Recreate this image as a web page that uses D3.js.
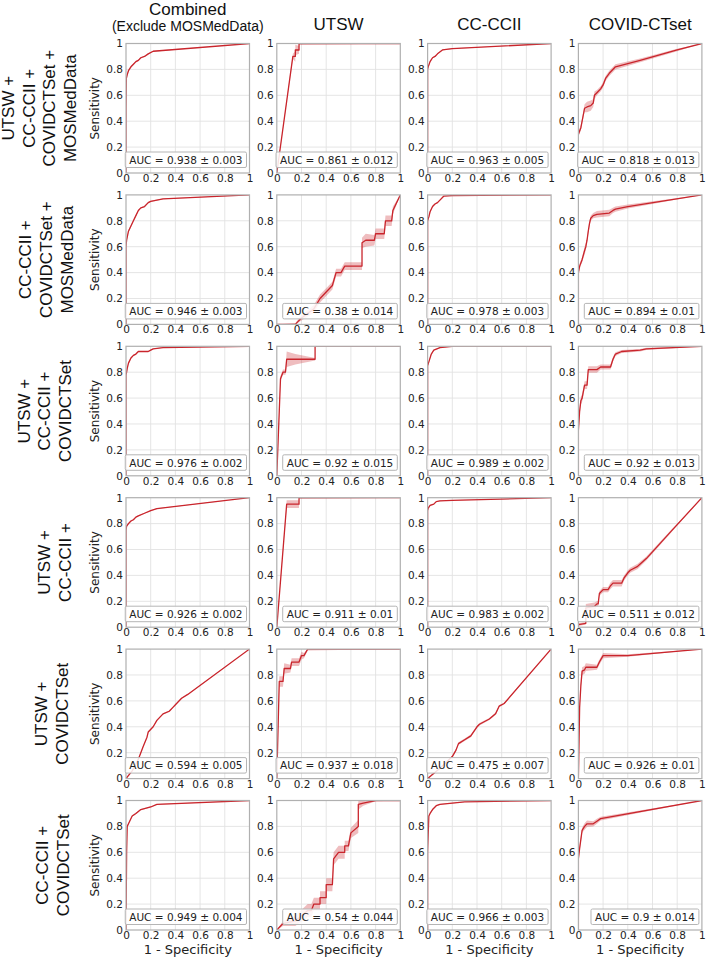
<!DOCTYPE html>
<html><head><meta charset="utf-8">
<script src="https://cdn.jsdelivr.net/npm/d3@7"></script>
<style>body{margin:0;background:#fff}</style>
</head><body><svg id="c" width="706" height="957"></svg>
<script>
// ---------------- data ----------------
const colTitles = ["Combined", "UTSW", "CC-CCII", "COVID-CTset"];
const colSubtitle = "(Exclude MOSMedData)";
const rowLabels = [
  ["UTSW +", "CC-CCII +", "COVIDCTSet +", "MOSMedData"],
  ["CC-CCII +", "COVIDCTSet +", "MOSMedData"],
  ["UTSW +", "CC-CCII +", "COVIDCTSet"],
  ["UTSW +", "CC-CCII +"],
  ["UTSW +", "COVIDCTSet"],
  ["CC-CCII +", "COVIDCTSet"]
];
const aucMean = [
  [0.938, 0.861, 0.963, 0.818],
  [0.946, 0.38, 0.978, 0.894],
  [0.976, 0.92, 0.989, 0.92],
  [0.926, 0.911, 0.983, 0.511],
  [0.594, 0.937, 0.475, 0.926],
  [0.949, 0.54, 0.966, 0.9]
];
const aucStd = [
  [0.003, 0.012, 0.005, 0.013],
  [0.003, 0.014, 0.003, 0.01],
  [0.002, 0.015, 0.002, 0.013],
  [0.002, 0.01, 0.002, 0.012],
  [0.005, 0.018, 0.007, 0.01],
  [0.004, 0.044, 0.003, 0.014]
];
const tickValues = [0, 0.2, 0.4, 0.6, 0.8, 1];
const tickLabels = ["0", "0.2", "0.4", "0.6", "0.8", "1"];
const yAxisLabel = "Sensitivity";
const xAxisLabel = "1 - Specificity";

// ROC curves: [fpr, tpr, band half-width]
const rocRow0 = [
  [[0,0,0],[0,0.5,0.01],[0.003,0.73,0.01],[0.01,0.76,0.01],[0.02,0.79,0.008],[0.04,0.82,0.008],[0.06,0.84,0.006],[0.08,0.86,0.006],[0.1,0.87,0.006],[0.12,0.89,0.005],[0.15,0.9,0.005],[0.18,0.92,0.005],[0.22,0.94,0.004],[1,1,0]],
  [[0,0,0],[0.13,0.9,0.02],[0.15,0.9,0.04],[0.15,0.95,0.04],[0.18,0.95,0.03],[0.18,1,0.01],[1,1,0]],
  [[0,0,0],[0,0.8,0.01],[0.005,0.82,0.01],[0.02,0.86,0.008],[0.04,0.89,0.006],[0.06,0.9,0.005],[0.08,0.92,0.005],[0.12,0.95,0.004],[0.2,0.96,0.003],[1,1,0]],
  [[0,0.3,0.02],[0.02,0.35,0.02],[0.03,0.4,0.02],[0.05,0.5,0.03],[0.07,0.51,0.04],[0.1,0.52,0.04],[0.12,0.54,0.03],[0.13,0.6,0.03],[0.15,0.62,0.02],[0.18,0.65,0.02],[0.2,0.68,0.02],[0.22,0.73,0.02],[0.25,0.77,0.02],[0.3,0.82,0.02],[0.5,0.87,0.015],[0.8,0.95,0.01],[1,1,0]]
];
const rocRow1 = [
  [[0,0,0],[0,0.6,0.01],[0.005,0.65,0.01],[0.02,0.72,0.01],[0.04,0.76,0.01],[0.06,0.8,0.008],[0.08,0.84,0.008],[0.1,0.88,0.006],[0.12,0.9,0.005],[0.15,0.91,0.005],[0.18,0.94,0.005],[0.2,0.95,0.004],[0.3,0.97,0.003],[1,1,0]],
  [[0,0,0],[0.15,0,0.01],[0.2,0.05,0.02],[0.3,0.12,0.03],[0.35,0.2,0.03],[0.4,0.25,0.03],[0.45,0.3,0.03],[0.48,0.4,0.03],[0.52,0.4,0.03],[0.55,0.45,0.03],[0.69,0.45,0.03],[0.69,0.63,0.04],[0.72,0.65,0.05],[0.79,0.65,0.04],[0.8,0.7,0.04],[0.87,0.7,0.04],[0.88,0.8,0.04],[0.93,0.8,0.04],[0.94,0.88,0.03],[1,1,0]],
  [[0,0,0],[0,0.8,0.01],[0.01,0.83,0.01],[0.02,0.87,0.008],[0.04,0.91,0.006],[0.06,0.93,0.005],[0.08,0.94,0.005],[0.1,0.96,0.004],[0.13,0.99,0.003],[0.2,0.995,0.002],[1,1,0]],
  [[0,0,0],[0,0.4,0.02],[0.01,0.45,0.02],[0.03,0.5,0.02],[0.05,0.57,0.03],[0.06,0.6,0.03],[0.07,0.65,0.02],[0.08,0.72,0.02],[0.09,0.78,0.02],[0.1,0.82,0.02],[0.12,0.84,0.02],[0.15,0.85,0.025],[0.25,0.86,0.025],[0.28,0.88,0.02],[0.3,0.89,0.02],[0.4,0.91,0.015],[1,1,0]]
];
const rocRow2 = [
  [[0,0,0],[0,0.78,0.01],[0.005,0.8,0.01],[0.01,0.83,0.01],[0.02,0.87,0.008],[0.04,0.91,0.006],[0.06,0.93,0.005],[0.08,0.94,0.005],[0.1,0.96,0.004],[0.18,0.96,0.004],[0.2,0.97,0.004],[0.22,0.98,0.003],[0.3,0.99,0.002],[1,1,0]],
  [[0,0,0],[0.03,0.75,0.02],[0.05,0.8,0.02],[0.07,0.8,0.02],[0.08,0.9,0.06],[0.15,0.9,0.04],[0.31,0.9,0.01],[0.31,1,0.005],[1,1,0]],
  [[0,0,0],[0,0.85,0.01],[0.01,0.88,0.008],[0.03,0.94,0.006],[0.05,0.97,0.004],[0.1,0.99,0.003],[0.2,1,0.001],[1,1,0]],
  [[0,0,0],[0,0.35,0.02],[0.01,0.5,0.03],[0.02,0.58,0.03],[0.03,0.6,0.03],[0.04,0.65,0.03],[0.05,0.7,0.03],[0.07,0.7,0.03],[0.08,0.82,0.025],[0.15,0.82,0.025],[0.18,0.84,0.02],[0.26,0.84,0.02],[0.28,0.9,0.02],[0.3,0.94,0.015],[0.35,0.96,0.012],[0.5,0.97,0.01],[0.55,0.98,0.008],[1,1,0]]
];
const rocRow3 = [
  [[0,0,0],[0,0.75,0.01],[0.005,0.78,0.008],[0.02,0.8,0.006],[0.04,0.82,0.005],[0.06,0.83,0.005],[0.08,0.85,0.005],[0.1,0.86,0.004],[0.15,0.88,0.004],[0.2,0.9,0.004],[0.25,0.915,0.003],[1,1,0]],
  [[0,0,0],[0.08,0.95,0.03],[0.18,0.95,0.03],[0.18,1,0.01],[1,1,0]],
  [[0,0,0],[0,0.9,0.008],[0.005,0.92,0.006],[0.02,0.94,0.005],[0.05,0.95,0.004],[0.07,0.97,0.003],[0.1,0.975,0.003],[0.2,0.98,0.002],[1,1,0]],
  [[0,0,0],[0,0.02,0.01],[0.06,0.03,0.01],[0.06,0.15,0.03],[0.13,0.16,0.03],[0.15,0.18,0.02],[0.16,0.18,0.02],[0.17,0.26,0.02],[0.2,0.29,0.02],[0.24,0.29,0.02],[0.26,0.32,0.025],[0.28,0.34,0.025],[0.35,0.34,0.025],[0.37,0.38,0.02],[0.4,0.42,0.02],[0.42,0.44,0.02],[0.48,0.47,0.02],[0.55,0.53,0.015],[0.75,0.74,0.01],[1,1,0]]
];
const rocRow4 = [
  [[0,0,0],[0.05,0.06,0.005],[0.1,0.15,0.005],[0.14,0.25,0.005],[0.17,0.32,0.005],[0.18,0.36,0.005],[0.22,0.4,0.005],[0.25,0.45,0.005],[0.3,0.5,0.005],[0.35,0.52,0.005],[0.38,0.55,0.005],[0.4,0.57,0.005],[0.45,0.62,0.005],[0.5,0.65,0.004],[1,1,0]],
  [[0,0,0],[0.02,0.75,0.04],[0.05,0.75,0.04],[0.06,0.85,0.04],[0.11,0.85,0.03],[0.12,0.9,0.03],[0.18,0.9,0.03],[0.2,0.95,0.03],[0.22,0.95,0.02],[0.25,1,0.01],[1,1,0]],
  [[0,0,0],[0.1,0.08,0.005],[0.2,0.17,0.008],[0.23,0.22,0.008],[0.25,0.27,0.01],[0.3,0.3,0.01],[0.35,0.33,0.01],[0.4,0.4,0.01],[0.42,0.42,0.01],[0.5,0.46,0.008],[0.55,0.5,0.008],[0.58,0.56,0.008],[0.62,0.58,0.006],[1,1,0]],
  [[0,0,0],[0.01,0.55,0.02],[0.02,0.72,0.02],[0.03,0.83,0.03],[0.05,0.84,0.03],[0.06,0.86,0.03],[0.15,0.86,0.02],[0.17,0.9,0.02],[0.2,0.95,0.02],[0.4,0.95,0.01],[1,1,0]]
];
const rocRow5 = [
  [[0,0,0],[0.005,0.6,0.01],[0.01,0.8,0.008],[0.02,0.82,0.008],[0.05,0.88,0.006],[0.08,0.9,0.006],[0.12,0.93,0.005],[0.2,0.95,0.004],[0.25,0.97,0.003],[1,1,0]],
  [[0,0,0],[0.05,0.05,0.02],[0.15,0.07,0.04],[0.25,0.15,0.05],[0.28,0.15,0.05],[0.3,0.2,0.05],[0.35,0.2,0.05],[0.35,0.25,0.05],[0.4,0.25,0.05],[0.4,0.35,0.05],[0.45,0.35,0.05],[0.46,0.55,0.05],[0.5,0.6,0.05],[0.55,0.6,0.05],[0.55,0.65,0.04],[0.58,0.65,0.04],[0.6,0.75,0.04],[0.66,0.8,0.05],[0.66,0.97,0.04],[0.7,0.98,0.02],[0.8,1,0.005],[1,1,0]],
  [[0,0,0],[0,0.6,0.01],[0.01,0.88,0.008],[0.02,0.9,0.006],[0.04,0.93,0.005],[0.07,0.96,0.004],[0.1,0.97,0.003],[0.2,0.98,0.003],[0.3,0.99,0.002],[1,1,0]],
  [[0,0,0],[0,0.55,0.02],[0.01,0.63,0.02],[0.02,0.7,0.02],[0.03,0.77,0.02],[0.05,0.8,0.025],[0.07,0.82,0.025],[0.12,0.82,0.02],[0.15,0.84,0.02],[0.18,0.86,0.015],[1,1,0]]
];
const rocRows = [rocRow0, rocRow1, rocRow2, rocRow3, rocRow4, rocRow5];

// ---------------- layout ----------------
const L = {left0: 126, pitch: 150.8, w: 123.5, top0: 43.5, vpitch: 151.4, h: 129.5};
const rowLabelLastX = [70.7, 67.3, 65.7, 65.7, 62.3, 63.3];
const rowLineGap = 20.8;
const SANS = "'DejaVu Sans', sans-serif";
const ARIAL = "'Liberation Sans', Arial, sans-serif";
const RED = "#c9252c";

const svg = d3.select("#c");
const x = d3.scaleLinear().domain([0, 1]).range([0, L.w]);
const y = d3.scaleLinear().domain([0, 1]).range([L.h, 0]);
const clamp = v => Math.max(0, Math.min(1, v));

// column titles
colTitles.forEach((t, c) => {
  const cx = L.left0 + c * L.pitch + L.w / 2;
  svg.append("text").attr("x", cx).attr("y", c === 0 ? 15 : 30)
    .attr("text-anchor", "middle").attr("font-family", ARIAL).attr("font-size", 17)
    .attr("fill", "#111").text(t);
  if (c === 0) {
    svg.append("text").attr("x", cx).attr("y", 31)
      .attr("text-anchor", "middle").attr("font-family", ARIAL).attr("font-size", 14)
      .attr("fill", "#111").text(colSubtitle);
  }
});

const defs = svg.append("defs");
defs.append("clipPath").attr("id", "plotclip")
  .append("rect").attr("x", 0).attr("y", 0).attr("width", L.w).attr("height", L.h);

rocRows.forEach((row, r) => {
  const top = L.top0 + r * L.vpitch;
  // row label
  const lines = rowLabels[r];
  const n = lines.length;
  const cy = top + L.h / 2;
  lines.forEach((ln, i) => {
    const lx = rowLabelLastX[r] - (n - 1 - i) * rowLineGap;
    svg.append("text").attr("x", lx).attr("y", cy)
      .attr("transform", `rotate(-90,${lx},${cy})`)
      .attr("text-anchor", "middle").attr("dominant-baseline", "central")
      .attr("font-family", ARIAL).attr("font-size", 17).attr("fill", "#111").text(ln);
  });

  row.forEach((pts, c) => {
    const left = L.left0 + c * L.pitch;
    const g = svg.append("g").attr("transform", `translate(${left},${top})`);
    // grid
    g.selectAll(".gx").data(tickValues.slice(1, -1)).enter().append("line")
      .attr("x1", d => x(d)).attr("x2", d => x(d)).attr("y1", 0).attr("y2", L.h)
      .attr("stroke", "#e2e2e2").attr("stroke-width", 0.9);
    g.selectAll(".gy").data(tickValues.slice(1, -1)).enter().append("line")
      .attr("y1", d => y(d)).attr("y2", d => y(d)).attr("x1", 0).attr("x2", L.w)
      .attr("stroke", "#e2e2e2").attr("stroke-width", 0.9);

    // band + line
    const pg = g.append("g").attr("clip-path", "url(#plotclip)");
    const area = d3.area().x(d => x(d[0])).y0(d => y(clamp(d[1] - d[2]))).y1(d => y(clamp(d[1] + d[2])));
    pg.append("path").datum(pts).attr("d", area).attr("fill", RED).attr("fill-opacity", 0.3);
    const line = d3.line().x(d => x(d[0])).y(d => y(d[1]));
    pg.append("path").datum(pts).attr("d", line).attr("fill", "none")
      .attr("stroke", RED).attr("stroke-width", 1.3).attr("stroke-linejoin", "round");

    // spines
    g.append("rect").attr("x", 0).attr("y", 0).attr("width", L.w).attr("height", L.h)
      .attr("fill", "none").attr("stroke", "#b0b0b0").attr("stroke-width", 1.2);

    // axes
    const fmt = d => tickLabels[tickValues.indexOf(d)];
    const ya = g.append("g").call(d3.axisLeft(y).tickValues(tickValues).tickFormat(fmt).tickSize(0).tickPadding(3));
    const xa = g.append("g").attr("transform", `translate(0,${L.h})`)
      .call(d3.axisBottom(x).tickValues(tickValues).tickFormat(fmt).tickSize(0).tickPadding(1.5));
    [ya, xa].forEach(a => {
      a.select(".domain").remove();
      a.selectAll("text").attr("font-family", SANS).attr("font-size", 10.5).attr("fill", "#222");
    });

    // legend
    const lg = g.append("g");
    const txt = lg.append("text").attr("font-family", SANS).attr("font-size", 10.5).attr("fill", "#222")
      .text(`AUC = ${aucMean[r][c]} \u00b1 ${aucStd[r][c]}`);
    const tw = txt.node().getComputedTextLength();
    const bw = tw + 8, bh = 15.5;
    const bx = L.w - 3 - bw, by = L.h - 5.5 - bh;
    lg.insert("rect", "text").attr("x", bx).attr("y", by).attr("width", bw).attr("height", bh)
      .attr("rx", 1.5).attr("fill", "#fff").attr("fill-opacity", 0.85)
      .attr("stroke", "#b5b5b5").attr("stroke-width", 1);
    txt.attr("x", bx + 4).attr("y", by + bh / 2).attr("dominant-baseline", "central");

    // axis labels
    if (c === 0) {
      const lx = left - 31, ly = top + L.h / 2;
      svg.append("text").attr("x", lx).attr("y", ly).attr("transform", `rotate(-90,${lx},${ly})`)
        .attr("text-anchor", "middle").attr("dominant-baseline", "central")
        .attr("font-family", SANS).attr("font-size", 12).attr("fill", "#222").text(yAxisLabel);
    }
    if (r === rocRows.length - 1) {
      svg.append("text").attr("x", left + L.w / 2).attr("y", top + L.h + 23.5)
        .attr("text-anchor", "middle").attr("font-family", SANS).attr("font-size", 13)
        .attr("fill", "#222").text(xAxisLabel);
    }
  });
});
</script></body></html>
